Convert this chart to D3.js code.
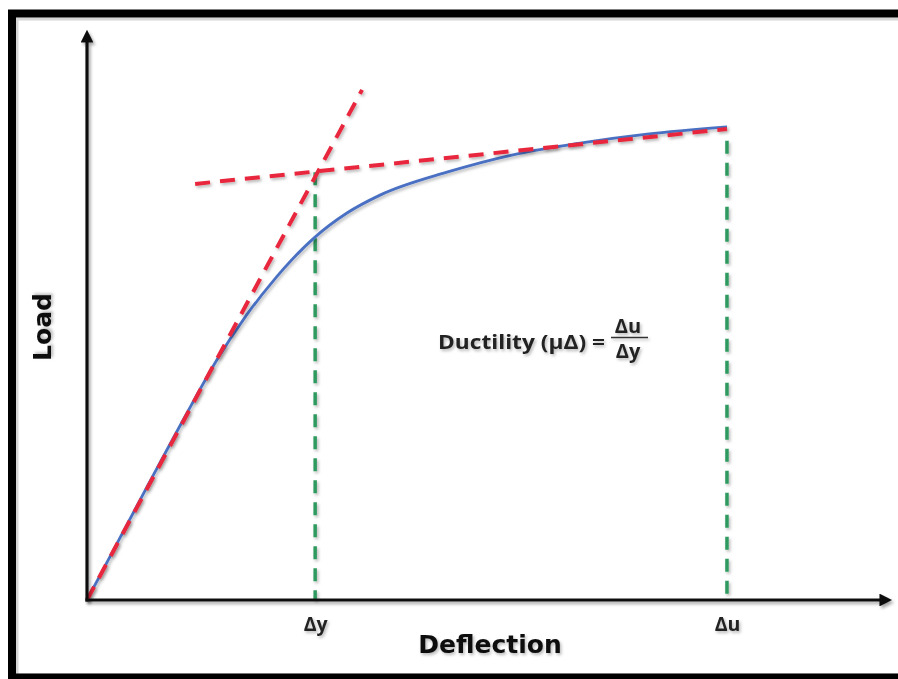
<!DOCTYPE html>
<html><head><meta charset="utf-8">
<script src="https://cdn.jsdelivr.net/npm/d3@7"></script>
<style>body{margin:0;background:#fff;}svg{display:block;}</style>
</head><body>
<script>
// Data (deflection, load) in arbitrary units
const curveX = [0, 0.755, 1.258, 1.635, 2.013, 2.39, 2.868, 3.27, 3.686, 4.528, 5.358, 6.201, 7.044, 8.05];
const curveY = [0, 2.02, 3.34, 4.29, 5.1, 5.78, 6.48, 6.91, 7.23, 7.64, 7.95, 8.16, 8.32, 8.45];
const elasticLineX = [0, 3.46];
const elasticLineY = [0, 9.11];
const plasticLineX = [1.36, 8.05];
const plasticLineY = [7.43, 8.41];
const markerX = [2.87, 8.05];
const markerTop = [7.64, 8.2];
const tickLabels = ["Δy", "Δu"];
const xTitle = "Deflection";
const yTitle = "Load";

const W = 898, H = 679;
const svg = d3.select("body").append("svg").attr("width", W).attr("height", H);
const defs = svg.append("defs");
function mkFilter(id, dx, dy, sd, op){
  const f = defs.append("filter").attr("id",id).attr("filterUnits","userSpaceOnUse")
    .attr("x",-2000).attr("y",-2000).attr("width",5000).attr("height",5000);
  f.append("feDropShadow").attr("dx",dx).attr("dy",dy).attr("stdDeviation",sd)
    .attr("flood-color","#000").attr("flood-opacity",op);
}
mkFilter("sh",2,2.5,1.8,0.35);
mkFilter("tsh",1.5,2,1.5,0.28);
defs.append("marker").attr("id","arr").attr("viewBox","0 0 10 10").attr("refX",2).attr("refY",5)
  .attr("markerWidth",4).attr("markerHeight",4).attr("orient","auto").attr("markerUnits","strokeWidth")
  .append("path").attr("d","M0,0 L10,5 L0,10 z").attr("fill","#111");

// frame
svg.append("rect").attr("x",17).attr("y",19).attr("width",900).attr("height",656)
  .attr("fill","none").attr("stroke","#bbb").attr("stroke-width",3).attr("opacity",0.6);
svg.append("rect").attr("x",12).attr("y",13.5).attr("width",900).attr("height",664)
  .attr("fill","none").attr("stroke","#000").attr("stroke-width",8);

const x = d3.scaleLinear().domain([0,10]).range([87,882]);
const y = d3.scaleLinear().domain([0,10]).range([600,40]);

// dashed guide lines
const g = svg.append("g");
markerX.forEach((mx,i)=>{
  g.append("line").attr("x1",x(mx)).attr("x2",x(mx)).attr("y1",y(markerTop[i])).attr("y2",y(0))
   .attr("stroke","#2f9a5e").attr("stroke-width",3.5).attr("stroke-dasharray","13,9").attr("filter","url(#tsh)");
});

// blue curve
const pts = curveX.map((d,i)=>[d,curveY[i]]);
g.append("path").datum(pts)
 .attr("d", d3.line().x(d=>x(d[0])).y(d=>y(d[1])).curve(d3.curveMonotoneX))
 .attr("fill","none").attr("stroke","#4a70c2").attr("stroke-width",2.8).attr("filter","url(#tsh)");

// red dashed lines
[[elasticLineX,elasticLineY],[plasticLineX,plasticLineY]].forEach(([lx,ly])=>{
  g.append("line").attr("x1",x(lx[0])).attr("y1",y(ly[0])).attr("x2",x(lx[1])).attr("y2",y(ly[1]))
   .attr("stroke","#e8283c").attr("stroke-width",4).attr("stroke-dasharray","15,10").attr("filter","url(#tsh)");
});

// axes
const xAxis = d3.axisBottom(x).tickValues(markerX).tickFormat((d,i)=>tickLabels[i])
  .tickSize(0).tickSizeOuter(0).tickPadding(17);
const gx = svg.append("g").attr("transform",`translate(0,${y(0)})`).call(xAxis);
gx.select(".domain").attr("stroke","#111").attr("stroke-width",3.2).attr("marker-end","url(#arr)").attr("filter","url(#sh)")
  .attr("d",`M${x(0)-1.5},0H${x(10)}`);
gx.selectAll("text").attr("font-family","'Open Sans', sans-serif").attr("font-weight","bold")
  .attr("font-size",19.5).attr("fill","#222").attr("filter","url(#tsh)");

const yAxis = d3.axisLeft(y).tickValues([]).tickSize(0).tickSizeOuter(0);
const gy = svg.append("g").attr("transform",`translate(${x(0)},0)`).call(yAxis);
gy.select(".domain").attr("stroke","#111").attr("stroke-width",3.2).attr("marker-end","url(#arr)").attr("filter","url(#sh)")
  .attr("d",`M0,${y(0)+1.5}V${y(10)}`);

// titles
svg.append("text").attr("x",490).attr("y",653).attr("text-anchor","middle")
  .attr("font-family","'DejaVu Sans', sans-serif").attr("font-weight","bold").attr("font-size",25)
  .attr("fill","#111").attr("filter","url(#tsh)").text(xTitle);
svg.append("text").attr("transform","translate(51,327) rotate(-90)").attr("text-anchor","middle")
  .attr("font-family","'DejaVu Sans', sans-serif").attr("font-weight","bold").attr("font-size",25)
  .attr("fill","#111").attr("filter","url(#tsh)").text(yTitle);

// ductility formula
const fg = svg.append("g").attr("font-family","'Open Sans', sans-serif").attr("font-weight","bold")
  .attr("fill","#222").attr("filter","url(#tsh)");
fg.append("text").attr("x",438).attr("y",349).attr("font-size",19)
  .attr("textLength",167).attr("lengthAdjust","spacingAndGlyphs").text("Ductility (μΔ) =");
fg.append("text").attr("x",628).attr("y",333).attr("text-anchor","middle").attr("font-size",20).text("Δu");
fg.append("line").attr("x1",611).attr("x2",648).attr("y1",337.5).attr("y2",337.5).attr("stroke","#333").attr("stroke-width",1.5);
fg.append("text").attr("x",628).attr("y",358).attr("text-anchor","middle").attr("font-size",20).text("Δy");
</script>
</body></html>
